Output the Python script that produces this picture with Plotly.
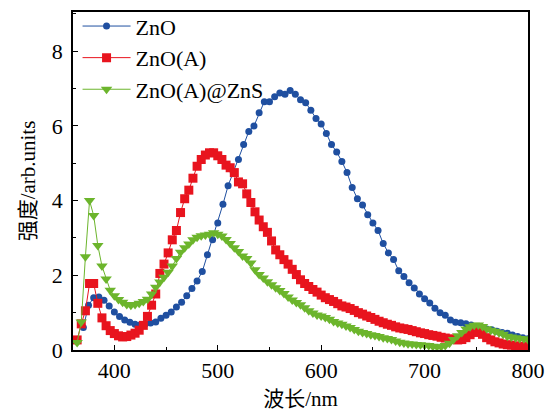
import plotly.graph_objects as go

# ZnO (blue circles)
zno_x = [370, 375, 380, 385, 390, 395, 400, 405, 410, 415, 420, 425, 430, 435, 440, 445, 450, 455, 460, 465,
         470, 475, 480, 485, 490, 495, 500, 505, 510, 515, 520, 525, 530, 535, 540, 545, 550, 555, 560, 565,
         570, 575, 580, 585, 590, 595, 600, 605, 610, 615, 620, 625, 630, 635, 640, 645, 650, 655, 660, 665,
         670, 675, 680, 685, 690, 695, 700, 705, 710, 715, 720, 725, 730, 735, 740, 745, 750, 755, 760, 765,
         770, 775, 780, 785, 790, 795, 800]
zno_y = [0.6, 1.2, 1.4, 1.42, 1.33, 1.18, 1.02, 0.9, 0.8, 0.74, 0.69, 0.67, 0.7, 0.72, 0.75, 0.85, 0.93, 1.02, 1.15, 1.28,
         1.45, 1.65, 1.85, 2.1, 2.55, 2.95, 3.4, 3.9, 4.4, 4.75, 5.1, 5.5, 5.85, 6.0, 6.35, 6.65, 6.65, 6.78, 6.88, 6.85,
         6.95, 6.85, 6.7, 6.62, 6.42, 6.2, 6.05, 5.8, 5.5, 5.3, 5.05, 4.75, 4.35, 4.05, 3.88, 3.62, 3.4, 3.2, 2.85, 2.6,
         2.42, 2.12, 1.97, 1.8, 1.66, 1.5, 1.37, 1.26, 1.12, 1.0, 0.93, 0.8, 0.74, 0.73, 0.7, 0.67, 0.63, 0.6, 0.56, 0.54,
         0.5, 0.47, 0.45, 0.4, 0.36, 0.33, 0.3]

# ZnO(A) (red squares) and ZnO(A)@ZnS (green triangles) share wavelengths
wl_x = [364, 368, 372, 376, 380, 384, 388, 392, 396, 400, 404, 408, 412, 416, 420, 424, 428, 432, 436, 440,
        444, 448, 452, 456, 460, 464, 468, 472, 476, 480, 484, 488, 492, 496, 500, 504, 508, 512, 516, 520,
        524, 528, 532, 536, 540, 544, 548, 552, 556, 560, 564, 568, 572, 576, 580, 584, 588, 592, 596, 600,
        604, 608, 612, 616, 620, 624, 628, 632, 636, 640, 644, 648, 652, 656, 660, 664, 668, 672, 676, 680,
        684, 688, 692, 696, 700, 704, 708, 712, 716, 720, 724, 728, 732, 736, 740, 744, 748, 752, 756, 760,
        764, 768, 772, 776, 780, 784, 788, 792, 796, 800]
znoa_y = [0.27, 0.7, 1.05, 1.78, 1.78, 1.25, 0.86, 0.65, 0.52, 0.44, 0.38, 0.35, 0.36, 0.4, 0.45, 0.53, 0.66, 0.9, 1.2, 1.5,
          2.05, 2.3, 2.6, 2.95, 3.2, 3.68, 4.05, 4.28, 4.6, 4.92, 5.1, 5.22, 5.28, 5.28, 5.2, 5.1, 4.95, 4.88, 4.75, 4.5,
          4.45, 4.18, 3.95, 3.7, 3.48, 3.3, 3.15, 2.92, 2.68, 2.55, 2.42, 2.3, 2.16, 2.02, 1.88, 1.78, 1.7, 1.62, 1.55, 1.47,
          1.4, 1.35, 1.3, 1.24, 1.18, 1.15, 1.11, 1.06, 1.0, 0.96, 0.91, 0.87, 0.82, 0.77, 0.73, 0.69, 0.66, 0.62, 0.59, 0.57,
          0.55, 0.52, 0.49, 0.46, 0.44, 0.41, 0.39, 0.37, 0.34, 0.32, 0.3, 0.28, 0.27, 0.28, 0.33, 0.41, 0.47, 0.49, 0.42, 0.33,
          0.27, 0.22, 0.19, 0.16, 0.14, 0.13, 0.11, 0.1, 0.09, 0.08]
znoazns_y = [0.2, 0.75, 2.5, 4.0, 3.6, 2.8, 2.25, 1.9, 1.6, 1.45, 1.35, 1.28, 1.22, 1.2, 1.22, 1.25, 1.3, 1.36, 1.5, 1.68,
             1.82, 1.95, 2.08, 2.25, 2.45, 2.62, 2.74, 2.84, 2.95, 3.02, 3.06, 3.08, 3.1, 3.14, 3.1, 3.05, 2.96, 2.85, 2.74, 2.64,
             2.52, 2.45, 2.33, 2.15, 2.02, 1.93, 1.83, 1.75, 1.67, 1.59, 1.51, 1.42, 1.34, 1.27, 1.21, 1.13, 1.05, 0.99, 0.94, 0.91,
             0.87, 0.82, 0.76, 0.72, 0.69, 0.64, 0.6, 0.55, 0.5, 0.47, 0.44, 0.41, 0.39, 0.36, 0.33, 0.31, 0.28, 0.24, 0.21, 0.19,
             0.17, 0.16, 0.15, 0.14, 0.13, 0.12, 0.1, 0.09, 0.09, 0.12, 0.18, 0.28, 0.38, 0.47, 0.56, 0.62, 0.66, 0.67, 0.63, 0.57,
             0.53, 0.5, 0.46, 0.42, 0.37, 0.35, 0.33, 0.31, 0.3, 0.28]

names = ["ZnO", "ZnO(A)", "ZnO(A)@ZnS"]
colors = ["#1f4fa0", "#e8141e", "#6cb52c"]

FONT = "Liberation Serif, Noto Sans CJK SC, serif"

fig = go.Figure()
fig.add_trace(go.Scatter(x=zno_x, y=zno_y, name=names[0], mode="lines+markers",
                         line=dict(color=colors[0], width=1),
                         marker=dict(symbol="circle", size=7, color=colors[0])))
fig.add_trace(go.Scatter(x=wl_x, y=znoa_y, name=names[1], mode="lines+markers",
                         line=dict(color=colors[1], width=1),
                         marker=dict(symbol="square", size=9, color=colors[1])))
fig.add_trace(go.Scatter(x=wl_x, y=znoazns_y, name=names[2], mode="lines+markers",
                         line=dict(color=colors[2], width=1),
                         marker=dict(symbol="triangle-down", size=10, color=colors[2])))

fig.update_layout(
    width=547, height=411,
    margin=dict(l=73, r=19, t=12, b=61, autoexpand=False),
    paper_bgcolor="white", plot_bgcolor="white",
    font=dict(family=FONT, size=22, color="black"),
    showlegend=True,
    legend=dict(x=0.01, y=1.02, xanchor="left", yanchor="top", bgcolor="rgba(0,0,0,0)",
                font=dict(size=22), itemwidth=48, tracegroupgap=0),
    xaxis=dict(range=[360, 800], tickvals=[400, 500, 600, 700, 800], automargin=False,
               ticks="inside", ticklen=5, tickwidth=1, tickcolor="black",
               tickfont=dict(size=22),
               minor=dict(tickvals=[450, 550, 650, 750], ticks="inside", ticklen=3, tickcolor="black"),
               showline=True, linecolor="black", linewidth=1.5, mirror=True,
               showgrid=False, zeroline=False,
               title=dict(text="波长/nm", font=dict(size=21), standoff=12)),
    yaxis=dict(range=[0, 9.05], tickvals=[0, 2, 4, 6, 8], automargin=False,
               ticks="inside", ticklen=5, tickwidth=1, tickcolor="black",
               tickfont=dict(size=22), ticklabelstandoff=4,
               minor=dict(tickvals=[1, 3, 5, 7, 9], ticks="inside", ticklen=3, tickcolor="black"),
               showline=True, linecolor="black", linewidth=1.5, mirror=True,
               showgrid=False, zeroline=False,
               title=dict(text="强度/arb.units", font=dict(size=21), standoff=10)),
)

fig.write_html("out.html")
